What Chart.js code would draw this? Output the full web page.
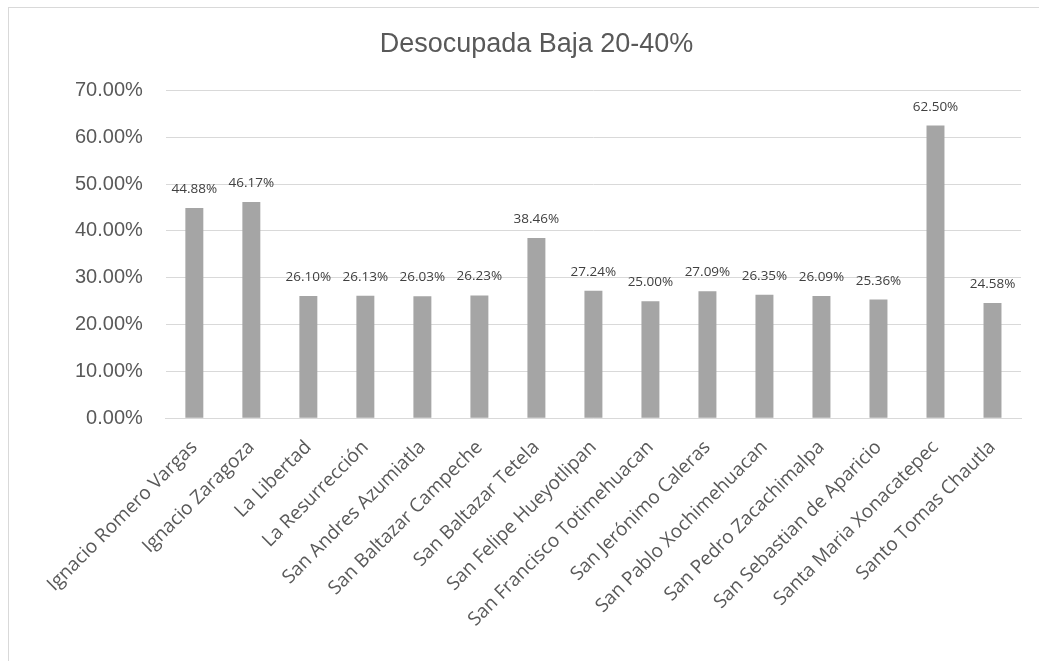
<!DOCTYPE html>
<html>
<head>
<meta charset="utf-8">
<script src="https://cdn.jsdelivr.net/npm/chart.js@4.4.1/dist/chart.umd.min.js"></script>
<style>
    body { margin: 0; background: #fff; }
    #box {
        position: absolute; left: 8px; top: 7px; width: 1040px; height: 660px;
        border: 1px solid #d9d9d9; box-sizing: border-box;
    }
    #wrap { position: absolute; left: 0; top: 0; width: 1030px; height: 654px; }
</style>
</head>
<body>
<div id="box">
    <div id="wrap"><canvas id="myChart"></canvas></div>
</div>
<script>
var categories = [
    "Ignacio Romero Vargas", "Ignacio Zaragoza", "La Libertad", "La Resurrección",
    "San Andres Azumiatla", "San Baltazar Campeche", "San Baltazar Tetela",
    "San Felipe Hueyotlipan", "San Francisco Totimehuacan", "San Jerónimo Caleras",
    "San Pablo Xochimehuacan", "San Pedro Zacachimalpa", "San Sebastian de Aparicio",
    "Santa Maria Xonacatepec", "Santo Tomas Chautla"
];
var values = [44.88, 46.17, 26.10, 26.13, 26.03, 26.23, 38.46, 27.24, 25.00, 27.09, 26.35, 26.09, 25.36, 62.50, 24.58];
var title = "Desocupada Baja 20-40%";

var labelsPlugin = {
    id: 'barLabels',
    afterDatasetsDraw: function (chart) {
        var ctx = chart.ctx;
        var meta = chart.getDatasetMeta(0);
        ctx.save();
        ctx.font = "13.5px 'Open Sans', sans-serif";
        ctx.fillStyle = '#404040';
        ctx.textAlign = 'center';
        ctx.textBaseline = 'bottom';
        meta.data.forEach(function (bar, i) {
            ctx.fillText(values[i].toFixed(2) + '%', bar.x, bar.y - 12);
        });
        ctx.restore();
    }
};

new Chart("myChart", {
    type: "bar",
    data: {
        labels: categories,
        datasets: [{
            data: values,
            backgroundColor: '#a5a5a5',
            barPercentage: 0.5,
            categoryPercentage: 0.63
        }]
    },
    options: {
        responsive: true,
        maintainAspectRatio: false,
        animation: false,
        layout: { padding: { left: 43, right: 18, top: 16, bottom: 21 } },
        plugins: {
            legend: { display: false },
            tooltip: { enabled: false },
            title: {
                display: true,
                text: title,
                color: '#595959',
                font: { family: "'Liberation Sans', Arial, sans-serif", size: 27, weight: 'normal' },
                padding: { top: 4, bottom: 30 }
            }
        },
        scales: {
            x: {
                grid: { display: false },
                border: { color: '#d9d9d9', width: 1 },
                ticks: {
                    color: '#595959',
                    font: { family: "'Open Sans', sans-serif", size: 19 },
                    maxRotation: 45,
                    minRotation: 45,
                    autoSkip: false,
                    padding: 10
                }
            },
            y: {
                min: 0,
                max: 70,
                grid: { color: '#d9d9d9', lineWidth: 1, drawTicks: false },
                border: { display: false },
                ticks: {
                    stepSize: 10,
                    color: '#595959',
                    padding: 23,
                    font: { family: "'Liberation Sans', Arial, sans-serif", size: 20 },
                    callback: function (v) { return v.toFixed(2) + '%'; }
                }
            }
        }
    },
    plugins: [labelsPlugin]
});
</script>
</body>
</html>
